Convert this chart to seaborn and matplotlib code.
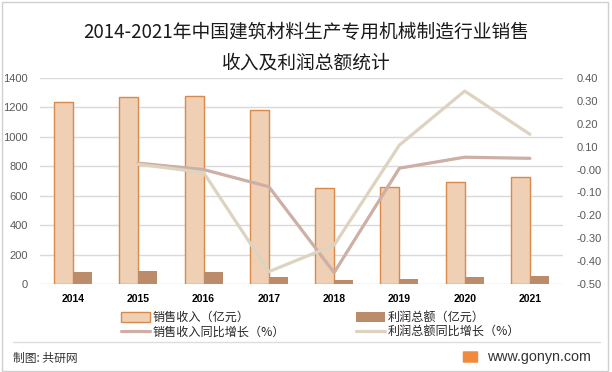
import numpy as np
import pandas as pd
import matplotlib.pyplot as plt
import seaborn as sns
from matplotlib.patches import Patch, Rectangle, FancyBboxPatch
from matplotlib.lines import Line2D

# values
years = ['2014', '2015', '2016', '2017', '2018', '2019', '2020', '2021']
revenue = [1236, 1269, 1278, 1181, 651, 657, 691, 725]          # 销售收入（亿元）
profit = [84, 88, 82, 48, 27, 34, 48, 54]                        # 利润总额（亿元）
growth_years = ['2015', '2016', '2017', '2018', '2019', '2020', '2021']
revenue_growth = [0.028, 0.000, -0.075, -0.450, 0.006, 0.054, 0.049]
profit_growth = [0.023, -0.013, -0.446, -0.330, 0.107, 0.343, 0.154]

rev_label = '销售收入（亿元）'
prof_label = '利润总额（亿元）'
rev_g_label = '销售收入同比增长（%）'
prof_g_label = '利润总额同比增长（%）'

c_rev = '#EFD0B5'
c_rev_edge = '#D9894A'
c_prof = '#BC8C6A'
c_rev_g = '#CDAFA5'
c_prof_g = '#DCD4C1'
grid_c = '#D9D9D9'
tick_c = '#595959'

sns.set_style('white')
plt.rcParams['font.family'] = ['Liberation Sans', 'Noto Sans CJK SC']

bars = pd.DataFrame({
    'year': years * 2,
    'value': revenue + profit,
    'series': [rev_label] * len(years) + [prof_label] * len(years),
})
lines = pd.DataFrame({
    'pos': [years.index(y) for y in growth_years],
    'rev_g': revenue_growth,
    'prof_g': profit_growth,
})

fig = plt.figure(figsize=(6.12, 3.72), dpi=100)
ax = fig.add_axes([40.4 / 612, 1 - 284 / 372, (562.6 - 40.4) / 612, 206 / 372])

sns.barplot(data=bars, x='year', y='value', hue='series', order=years,
            palette=[c_rev, c_prof], width=0.58, gap=0, saturation=1,
            ax=ax, legend=False)
for p in ax.containers[0]:
    p.set_edgecolor(c_rev_edge)
    p.set_linewidth(1.0)
for p in ax.containers[1]:
    p.set_edgecolor('none')

ax.set_xlim(-0.5, len(years) - 0.5)
ax.set_ylim(0, 1400)
ax.set_yticks(np.arange(0, 1401, 200))
ax.yaxis.grid(True, color=grid_c, linewidth=1.0)
ax.set_axisbelow(True)
ax.set_xlabel('')
ax.set_ylabel('')
ax.tick_params(axis='y', length=0, pad=9, labelsize=8, labelcolor=tick_c)
ax.tick_params(axis='x', length=0, pad=7, labelsize=7.5)
for t in ax.get_xticklabels():
    t.set_fontweight('bold')
    t.set_color('#000000')
sns.despine(ax=ax, left=True, right=True, top=True, bottom=True)

ax2 = ax.twinx()
sns.lineplot(data=lines, x='pos', y='rev_g', color=c_rev_g, linewidth=2.3, ax=ax2)
sns.lineplot(data=lines, x='pos', y='prof_g', color=c_prof_g, linewidth=2.3, ax=ax2)
ax2.set_xlim(-0.5, len(years) - 0.5)
ax2.set_ylim(-0.5, 0.4)
ax2.set_yticks(np.round(np.arange(-0.5, 0.41, 0.1), 2))
ax2.set_yticklabels([f'{v:.2f}' for v in np.arange(-0.5, 0.41, 0.1)])
ax2.set_xlabel('')
ax2.set_ylabel('')
ax2.tick_params(axis='y', length=0, pad=10, labelsize=8, labelcolor=tick_c)
for s in ax2.spines.values():
    s.set_visible(False)

handles = [
    Patch(facecolor=c_rev, edgecolor=c_rev_edge, linewidth=1.0),
    Line2D([0], [0], color=c_rev_g, linewidth=2.3),
    Patch(facecolor=c_prof, edgecolor='none'),
    Line2D([0], [0], color=c_prof_g, linewidth=2.3),
]
labels = [rev_label, rev_g_label, prof_label, prof_g_label]
fig.legend(handles, labels, ncol=2, loc='center left',
           bbox_to_anchor=(121 / 612, 1 - 325 / 372), frameon=False,
           handlelength=2.4, handleheight=0.8, handletextpad=0.2,
           columnspacing=5.9, labelspacing=0.15, borderpad=0, borderaxespad=0,
           prop={'family': ['Noto Sans CJK SC'], 'size': 8.7})

# title
fig.text(0.5, 1 - 33 / 372, '2014-2021年中国建筑材料生产专用机械制造行业销售',
         ha='center', va='center', fontsize=13.5, color='#1a1a1a',
         family=['Noto Sans CJK SC'])
fig.text(0.5, 1 - 63 / 372, '收入及利润总额统计',
         ha='center', va='center', fontsize=13.5, color='#1a1a1a',
         family=['Noto Sans CJK SC'])

# footer
fig.add_artist(Line2D([13 / 612, 600 / 612], [1 - 342 / 372, 1 - 342 / 372],
                      color='#DDDDDD', linewidth=1.0))
fig.text(13 / 612, 1 - 358 / 372, '制图: 共研网', ha='left', va='center',
         fontsize=8.5, color='#333333', family=['Noto Sans CJK SC'])
fig.add_artist(FancyBboxPatch((464 / 612, 1 - 362 / 372), 13 / 612, 10 / 372,
                              boxstyle='round,pad=0.002', facecolor='#F08A3C',
                              edgecolor='none'))
fig.text(487 / 612, 1 - 357 / 372, 'www.gonyn.com', ha='left', va='center',
         fontsize=10.3, color='#333333')

# outer frame
fig.add_artist(Rectangle((2 / 612, 1 / 372), 606 / 612, 369 / 372,
                         facecolor='none', edgecolor='#D0D0D0', linewidth=1.0))

fig.savefig('out.png', dpi=100)
